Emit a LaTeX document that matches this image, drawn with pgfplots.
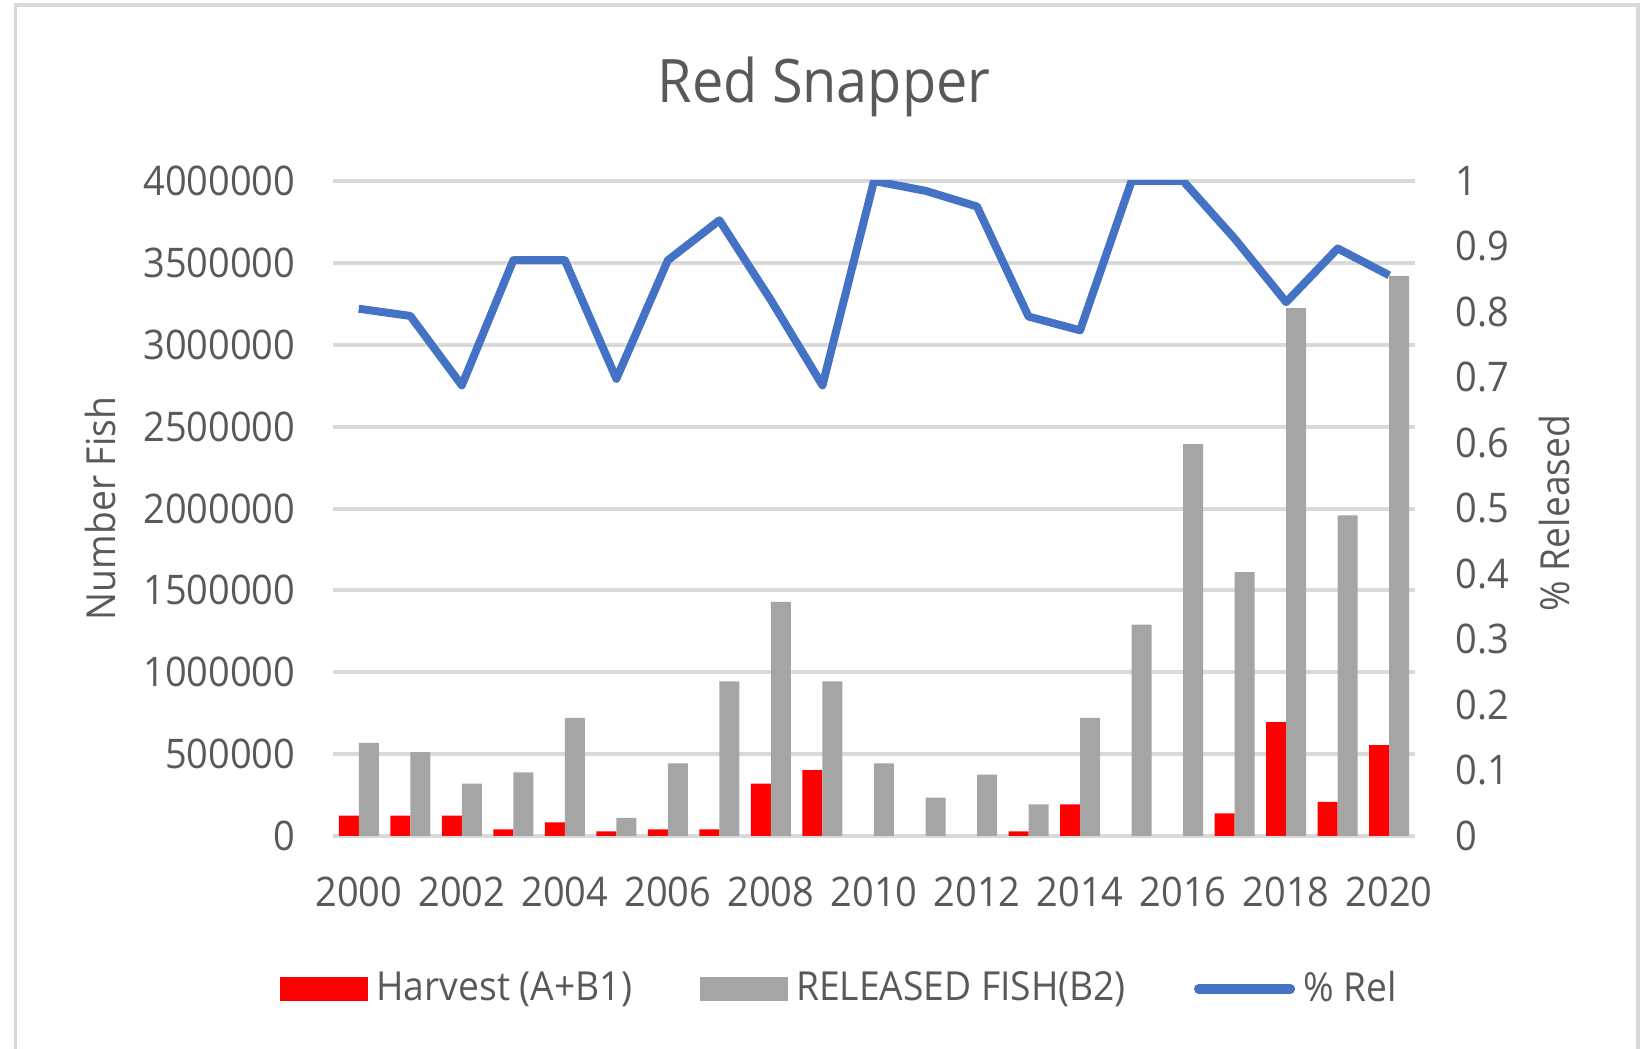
\documentclass[border=0pt]{standalone}
\usepackage{fontspec}
\setmainfont{Open Sans}[FakeStretch=0.93]
\usepackage{pgfplots}
\pgfplotsset{compat=1.18}
\definecolor{txt}{HTML}{595959}
\definecolor{gridc}{HTML}{D9D9D9}
\definecolor{barred}{HTML}{FF0000}
\definecolor{bargray}{HTML}{A5A5A5}
\definecolor{lineblue}{HTML}{4472C4}
\begin{document}
\begin{tikzpicture}
\useasboundingbox (0,0) rectangle (410.25pt,262.25pt);
\draw[gridc, line width=0.8pt] (3.8pt,-2pt) -- (3.8pt,261pt) -- (409.5pt,261pt) -- (409.5pt,-2pt);
\node[text=txt, font=\fontsize{15}{18}\selectfont] at (206pt,240.6pt) {Red Snapper};
\begin{axis}[
  scale only axis, width=270.5pt, height=163.75pt,
  at={(83.25pt,53.25pt)}, anchor=south west,
  xmin=1999.5, xmax=2020.5, ymin=0, ymax=4000000,
  ytick={0,500000,1000000,1500000,2000000,2500000,3000000,3500000,4000000},
  xtick={2000,2002,...,2020},
  scaled y ticks=false,
  /pgf/number format/assume math mode=true,
  yticklabel style={/pgf/number format/fixed, /pgf/number format/precision=0, /pgf/number format/1000 sep={}, inner sep=0pt, anchor=east, xshift=-9.25pt},
  xticklabel style={/pgf/number format/1000 sep={}, inner sep=0pt, anchor=north, yshift=-10pt},
  tick label style={text=txt, font=\fontsize{10.2}{12}\selectfont},
  major tick length=0pt,
  axis line style={draw=none},
  ymajorgrids, grid style={gridc, line width=1pt},
  every axis y label/.style={at={(axis description cs:-0.2153,0.5)}, rotate=90, anchor=center},
  ylabel={Number Fish},
  label style={text=txt, font=\fontsize{10}{12}\selectfont},
  legend columns=3,
  legend style={draw=none, fill=none, at={(axis description cs:0.471,-0.2335)}, anchor=center,
    font=\fontsize{10}{12}\selectfont, text=txt,
    /tikz/every even column/.append style={column sep=15pt}},
  legend cell align=left,
]
\addplot[ybar, bar width=5pt, bar shift=-2.5pt, fill=barred, draw=none,
  legend image code/.code={\fill[barred] (0pt,-3.1pt) rectangle (22pt,3.1pt);}]
  coordinates {(2000,125000) (2001,125000) (2002,125000) (2003,40000) (2004,83000)
  (2005,28000) (2006,40000) (2007,40000) (2008,320000) (2009,402000)
  (2013,28000) (2014,193000) (2017,138000) (2018,695000) (2019,208000) (2020,555000)};
\addlegendentry{Harvest (A+B1)}
\addplot[ybar, bar width=5pt, bar shift=2.5pt, fill=bargray, draw=none,
  legend image code/.code={\fill[bargray] (0pt,-3.1pt) rectangle (22pt,3.1pt);}]
  coordinates {(2000,569000) (2001,512000) (2002,320000) (2003,389000) (2004,722000)
  (2005,110000) (2006,444000) (2007,944000) (2008,1430000) (2009,944000)
  (2010,444000) (2011,234000) (2012,375000) (2013,193000) (2014,722000)
  (2015,1291000) (2016,2393000) (2017,1611000) (2018,3223000) (2019,1958000) (2020,3421000)};
\addlegendentry{RELEASED FISH(B2)}
\addlegendimage{legend image code/.code={\draw[lineblue, line width=2.3pt, line cap=round] (1pt,0pt) -- (24pt,0pt);}}
\addlegendentry{\% Rel}
\end{axis}
\begin{axis}[
  scale only axis, width=270.5pt, height=163.75pt,
  at={(83.25pt,53.25pt)}, anchor=south west,
  xmin=1999.5, xmax=2020.5, ymin=0, ymax=1,
  axis x line=none,
  axis y line*=right,
  axis line style={draw=none},
  ytick={0,0.1,0.2,0.3,0.4,0.5,0.6,0.7,0.8,0.9,1},
  yticklabels={0,0.1,0.2,0.3,0.4,0.5,0.6,0.7,0.8,0.9,1},
  yticklabel style={inner sep=0pt, anchor=west, xshift=10pt},
  tick label style={text=txt, font=\fontsize{10.2}{12}\selectfont},
  major tick length=0pt,
  every axis y label/.style={at={(axis description cs:1.1285,0.493)}, rotate=90, anchor=center},
  ylabel={\% Released},
  label style={text=txt, font=\fontsize{10}{12}\selectfont},
]
\addplot[lineblue, line width=2pt, line join=round]
  coordinates {(2000,0.805) (2001,0.794) (2002,0.688) (2003,0.879) (2004,0.879)
  (2005,0.698) (2006,0.879) (2007,0.940) (2008,0.818) (2009,0.688)
  (2010,1.0) (2011,0.985) (2012,0.961) (2013,0.793) (2014,0.772)
  (2015,1.0) (2016,1.0) (2017,0.912) (2018,0.815) (2019,0.897) (2020,0.856)};
\end{axis}
\end{tikzpicture}
\end{document}
